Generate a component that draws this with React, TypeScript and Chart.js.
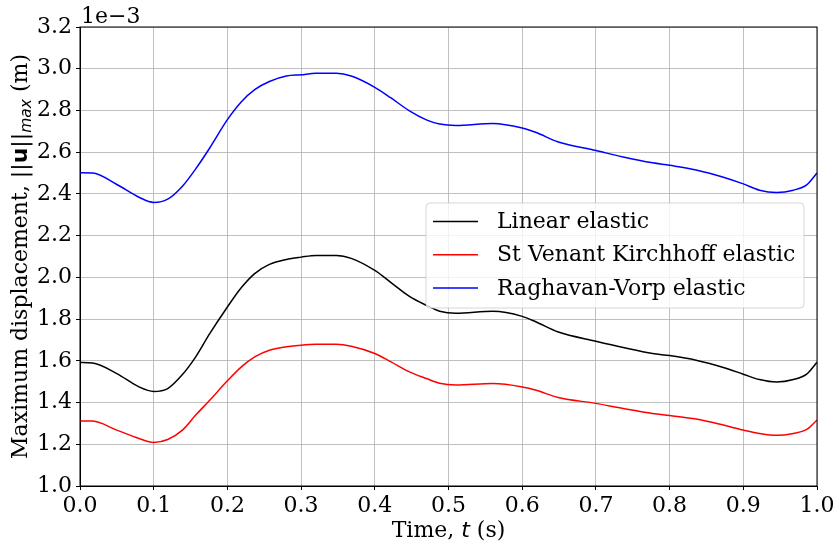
import React, { useEffect, useRef } from "react";
import { Chart, registerables } from "chart.js";

Chart.register(...registerables);

const times = [0, 0.017, 0.05, 0.08, 0.1, 0.119, 0.139, 0.157, 0.176, 0.2, 0.219, 0.237, 0.257, 0.28, 0.3, 0.32, 0.348, 0.368, 0.4, 0.422, 0.447, 0.47, 0.488, 0.51, 0.56, 0.6, 0.619, 0.649, 0.7, 0.737, 0.777, 0.8, 0.836, 0.873, 0.9, 0.922, 0.945, 0.968, 0.986, 1.0];

const linearElastic = [1.592, 1.590, 1.539, 1.475, 1.453, 1.467, 1.534, 1.619, 1.73, 1.858, 1.951, 2.018, 2.062, 2.086, 2.097, 2.105, 2.105, 2.091, 2.033, 1.975, 1.909, 1.866, 1.838, 1.828, 1.837, 1.813, 1.786, 1.738, 1.694, 1.664, 1.635, 1.625, 1.603, 1.568, 1.536, 1.510, 1.498, 1.510, 1.536, 1.593];

const stVenant = [1.312, 1.311, 1.268, 1.228, 1.209, 1.223, 1.268, 1.34, 1.411, 1.504, 1.571, 1.619, 1.651, 1.667, 1.675, 1.679, 1.679, 1.67, 1.635, 1.595, 1.547, 1.515, 1.492, 1.484, 1.491, 1.475, 1.459, 1.424, 1.396, 1.372, 1.348, 1.338, 1.321, 1.292, 1.268, 1.252, 1.243, 1.252, 1.271, 1.316];

const raghavan = [2.501, 2.50, 2.445, 2.384, 2.359, 2.375, 2.437, 2.52, 2.62, 2.756, 2.842, 2.90, 2.939, 2.965, 2.971, 2.978, 2.978, 2.965, 2.911, 2.86, 2.798, 2.755, 2.735, 2.728, 2.738, 2.716, 2.694, 2.649, 2.608, 2.577, 2.549, 2.537, 2.515, 2.48, 2.448, 2.418, 2.407, 2.418, 2.443, 2.50];

const seriesLabels = ["Linear elastic", "St Venant Kirchhoff elastic", "Raghavan-Vorp elastic"];
const seriesColors = ["#000000", "#ff0000", "#0000ff"];

const SERIF = "'DejaVu Serif', serif";
const SANS = "'DejaVu Sans', sans-serif";
const FS = 22;

type Seg = { t: string; font: string; dy?: number };

function drawSegs(ctx: CanvasRenderingContext2D, segs: Seg[], cx: number, baseY: number) {
  let total = 0;
  for (const s of segs) {
    ctx.font = s.font;
    total += ctx.measureText(s.t).width;
  }
  let x = cx - total / 2;
  ctx.textAlign = "left";
  ctx.textBaseline = "alphabetic";
  for (const s of segs) {
    ctx.font = s.font;
    ctx.fillText(s.t, x, baseY + (s.dy || 0));
    x += ctx.measureText(s.t).width;
  }
}

const decorPlugin = {
  id: "decor",
  afterDraw(chart: any) {
    const ctx: CanvasRenderingContext2D = chart.ctx;
    const a = chart.chartArea;
    ctx.save();
    // spines
    ctx.strokeStyle = "#000";
    ctx.lineWidth = 1;
    ctx.strokeRect(a.left, a.top, a.right - a.left, a.bottom - a.top);

    ctx.fillStyle = "#000";
    // offset text
    ctx.font = `${FS}px ${SERIF}`;
    ctx.textAlign = "left";
    ctx.textBaseline = "alphabetic";
    ctx.fillText("1e\u22123", a.left + 1, a.top - 4);

    // x title
    drawSegs(
      ctx,
      [
        { t: "Time, ", font: `${FS}px ${SERIF}` },
        { t: "t", font: `oblique ${FS}px ${SANS}` },
        { t: " (s)", font: `${FS}px ${SERIF}` },
      ],
      (a.left + a.right) / 2,
      537
    );

    // y title
    ctx.save();
    ctx.translate(26.5, (a.top + a.bottom) / 2);
    ctx.rotate(-Math.PI / 2);
    drawSegs(
      ctx,
      [
        { t: "Maximum displacement, ", font: `${FS}px ${SERIF}` },
        { t: "||", font: `${FS}px ${SANS}` },
        { t: "u", font: `bold ${FS}px ${SANS}` },
        { t: "||", font: `${FS}px ${SANS}` },
        { t: "max", font: `oblique 15.5px ${SANS}`, dy: 4 },
        { t: " (m)", font: `${FS}px ${SERIF}` },
      ],
      0,
      0
    );
    ctx.restore();

    // legend
    const lx = a.left + 346;
    const ly = a.top + 176;
    const lw = 378;
    const lh = 105;
    ctx.beginPath();
    (ctx as any).roundRect(lx, ly, lw, lh, 4);
    ctx.fillStyle = "rgba(255,255,255,0.8)";
    ctx.fill();
    ctx.strokeStyle = "rgba(204,204,204,0.8)";
    ctx.lineWidth = 1;
    ctx.stroke();
    chart.data.datasets.forEach((ds: any, i: number) => {
      const yy = ly + 18.5 + i * 33.2;
      ctx.beginPath();
      ctx.strokeStyle = ds.borderColor;
      ctx.lineWidth = 1.5;
      ctx.moveTo(lx + 7, yy);
      ctx.lineTo(lx + 52, yy);
      ctx.stroke();
      ctx.fillStyle = "#000";
      ctx.font = `${FS}px ${SERIF}`;
      ctx.textAlign = "left";
      ctx.textBaseline = "middle";
      ctx.fillText(ds.label, lx + 71, yy + 1);
    });
    ctx.restore();
  },
};

export default function App() {
  const ref = useRef<HTMLCanvasElement | null>(null);
  useEffect(() => {
    if (!ref.current) return;
    const seriesValues = [linearElastic, stVenant, raghavan];
    const chart = new Chart(ref.current, {
      type: "line",
      data: {
        datasets: seriesValues.map((vals, i) => ({
          label: seriesLabels[i],
          data: times.map((t, j) => ({ x: t, y: vals[j] })),
          borderColor: seriesColors[i],
          backgroundColor: seriesColors[i],
          borderWidth: 1.5,
          pointRadius: 0,
          cubicInterpolationMode: "monotone" as const,
          fill: false,
        })),
      },
      options: {
        animation: false,
        responsive: false,
        devicePixelRatio: 1,
        layout: { padding: { top: 27, right: 22, left: 0, bottom: 0 } },
        plugins: { legend: { display: false }, tooltip: { enabled: false } },
        scales: {
          x: {
            type: "linear",
            min: 0,
            max: 1,
            afterFit: (s: any) => { s.height = 65; },
            ticks: {
              stepSize: 0.1,
              color: "#000",
              font: { family: SERIF, size: FS },
              padding: 3,
              maxRotation: 0,
              callback: (v: any) => Number(v).toFixed(1),
            },
            grid: { color: "#b0b0b0", lineWidth: 0.8, tickColor: "#000", tickLength: 4, tickWidth: 1 },
            border: { color: "#000", width: 1 },
          },
          y: {
            type: "linear",
            min: 1.0,
            max: 3.2,
            afterFit: (s: any) => { s.width = 80; },
            ticks: {
              stepSize: 0.2,
              color: "#000",
              font: { family: SERIF, size: FS },
              padding: 4,
              callback: (v: any) => Number(v).toFixed(1),
            },
            grid: { color: "#b0b0b0", lineWidth: 0.8, tickColor: "#000", tickLength: 4, tickWidth: 1 },
            border: { color: "#000", width: 1 },
          },
        },
      },
      plugins: [decorPlugin],
    });
    return () => chart.destroy();
  }, []);
  return (
    <div style={{ position: "fixed", left: 0, top: 0, width: 839, height: 551, background: "#fff" }}>
      <canvas ref={ref} width={839} height={551} style={{ width: 839, height: 551, display: "block" }} />
    </div>
  );
}
